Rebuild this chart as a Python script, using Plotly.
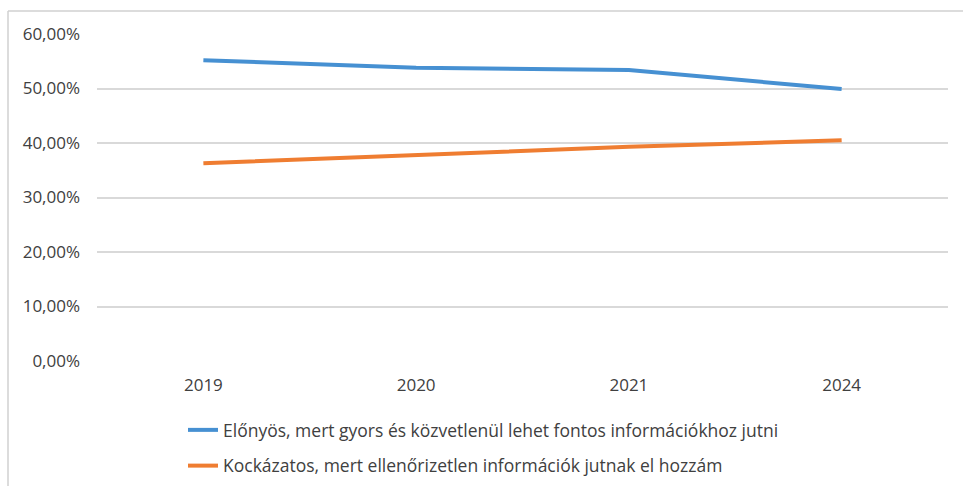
import plotly.graph_objects as go

years = ["2019", "2020", "2021", "2024"]
elonyos = [0.552, 0.538, 0.534, 0.499]
kockazatos = [0.363, 0.378, 0.393, 0.405]
series_names = [
    "Előnyös, mert gyors és közvetlenül lehet fontos információkhoz jutni",
    "Kockázatos, mert ellenőrizetlen információk jutnak el hozzám",
]
y_ticks = [0, 0.1, 0.2, 0.3, 0.4, 0.5, 0.6]

W, H = 963, 486
ML, MR, MT, MB = 97, 15, 34, 125
pw, ph = W - ML - MR, H - MT - MB

FONT = "Open Sans"
TXT = "#404040"

fig = go.Figure()
fig.add_trace(go.Scatter(x=years, y=elonyos, mode="lines", name=series_names[0],
                         legendgroup="a", line=dict(color="#4690D2", width=4)))
fig.add_trace(go.Scatter(x=years, y=kockazatos, mode="lines", name=series_names[1],
                         legendgroup="b", line=dict(color="#EF7D31", width=4)))

# chart frame: top and left edges only
fx = (8 - ML) / pw
fy = 1 + (MT - 11) / ph
fig.add_shape(type="line", xref="paper", yref="paper", x0=fx, x1=(W - ML) / pw, y0=fy, y1=fy,
              line=dict(color="#D0D0D0", width=1.5))
fig.add_shape(type="line", xref="paper", yref="paper", x0=fx, x1=fx, y0=fy, y1=-(MB) / ph,
              line=dict(color="#D0D0D0", width=1.5))

fig.update_layout(
    width=W, height=H,
    margin=dict(l=ML, r=MR, t=MT, b=MB, autoexpand=False),
    paper_bgcolor="white", plot_bgcolor="white",
    separators=",.",
    font=dict(family=FONT, size=17, color=TXT),
    showlegend=True,
    legend=dict(x=(183 - ML) / pw, y=-(412 - (H - MB)) / ph, xanchor="left", yanchor="top",
                font=dict(family=FONT, size=17.5, color=TXT), tracegroupgap=10,
                bgcolor="rgba(0,0,0,0)"),
    xaxis=dict(type="category", showgrid=False, zeroline=False, showline=False,
               ticks="", tickfont=dict(size=17, color=TXT), ticklabelstandoff=12,
               range=[-0.5, 3.5]),
    yaxis=dict(range=[0, 0.6], tickvals=y_ticks, tickformat=".2%",
               showgrid=True, gridcolor="#D9D9D9", gridwidth=1.5,
               zeroline=False, showline=False, ticks="",
               tickfont=dict(size=17, color=TXT), ticklabelstandoff=16),
)

fig.write_html("out.html")
